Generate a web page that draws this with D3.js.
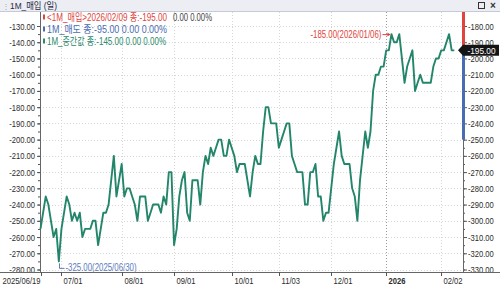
<!DOCTYPE html>
<html>
<head>
<meta charset="utf-8">
<script src="https://cdn.jsdelivr.net/npm/d3@7"></script>
<style>
body { margin: 0; background: #fff; }
svg { display: block; font-family: "Liberation Sans", "Noto Sans CJK KR", sans-serif; }
</style>
</head>
<body>
<svg id="chart" width="500" height="285"></svg>
<script>
// daily closes, 2025/06/19 .. 2026/02/09 (trading days)
const values = [
    -305, -295, -285, -290, -300, -310, -305, -325, -305, -295,
    -285, -290, -300, -295, -300, -295, -310, -305, -305, -305,
    -300, -300, -315, -305, -295, -295, -290, -275, -260, -285,
    -275, -265, -285, -280, -280, -285, -290, -300, -285, -285,
    -285, -300, -295, -290, -290, -290, -295, -285, -290, -270,
    -270, -315, -305, -285, -275, -270, -295, -300, -275, -275,
    -275, -290, -270, -260, -265, -255, -260, -255, -250, -250,
    -260, -260, -250, -255, -260, -270, -265, -265, -265, -275,
    -285, -270, -260, -265, -265, -245, -230, -230, -240, -240,
    -240, -255, -250, -245, -240, -240, -260, -265, -270, -270,
    -270, -290, -290, -270, -270, -265, -285, -285, -300, -295,
    -295, -280, -265, -255, -245, -260, -265, -265, -265, -280,
    -285, -300, -275, -260, -245, -255, -245, -220, -210, -210,
    -205, -205, -195, -195, -185, -190, -190, -185, -200, -215,
    -205, -200, -195, -220, -215, -210, -215, -215, -215, -215,
    -205, -200, -200, -195, -195, -190, -185, -195, -195
];
const tickIdx = [0, 8, 31, 51, 73, 91, 111, 132, 153];
const tickLabels = ["2025/06/19", "07/01", "08/01", "09/01", "10/01", "11/03", "12/01", "2026", "02/02"];
const yearIdx = 132;
const leftTicks = d3.range(-130, -281, -10);
const rightTicks = d3.range(-180, -331, -10);
const lastDate = "2026/02/09";
const maxDate = "2026/01/06";
const minDate = "2025/06/30";
const sellLevel = -250;
const legendNames = ["<1M_매입>" + lastDate + " 종:-195.00", "1M_매도 종:-95.00 0.00 0.00%", "1M_중간값 종:-145.00 0.00 0.00%"];
const legendColors = ["#e0443c", "#4a6cb3", "#2a8a6c"];

const svg = d3.select("#chart");
const W = 500, H = 285;
const pLeft = 40, pRight = 463, pTop = 12, pBottom = 272;

const x = d3.scaleLinear().domain([0, values.length - 1]).range([40.5, 454.3]);
const yR = d3.scaleLinear().domain([-330, -180]).range([269.5, 26]);
const yL = d3.scaleLinear().domain([-280, -130]).range([269.5, 26]);

// the terminal font is narrow; squeeze text horizontally
function squeeze(sel, k) {
    sel.each(function () {
        const w = this.getComputedTextLength();
        d3.select(this).attr("textLength", w * k).attr("lengthAdjust", "spacingAndGlyphs");
    });
}
function fitTo(sel, w) {
    sel.attr("textLength", w).attr("lengthAdjust", "spacingAndGlyphs");
}

// header bar
svg.append("rect").attr("x", 0).attr("y", 0).attr("width", W).attr("height", pTop)
    .attr("fill", "#eceef3");
svg.append("line").attr("x1", 0).attr("x2", W).attr("y1", pTop - 0.5).attr("y2", pTop - 0.5)
    .attr("stroke", "#c5cad6");
svg.append("text").attr("x", 2).attr("y", 9).attr("font-size", 8).attr("fill", "#9aa").text("⋮");
svg.append("text").attr("x", 10).attr("y", 9.3).attr("font-size", 9.5).attr("fill", "#1f2a44")
    .text("1M_매입 (일)").call(fitTo, 47);
svg.append("rect").attr("x", 478.5).attr("y", 2.5).attr("width", 6).attr("height", 6)
    .attr("fill", "none").attr("stroke", "#333");
svg.append("text").attr("x", 490).attr("y", 9.3).attr("font-size", 10).attr("font-weight", "bold")
    .attr("fill", "#333").text("×");

// grid
svg.append("g").selectAll("line").data(leftTicks).join("line")
    .attr("x1", pLeft).attr("x2", pRight)
    .attr("y1", d => Math.round(yL(d)) + 0.5).attr("y2", d => Math.round(yL(d)) + 0.5)
    .attr("stroke", "#d6d6d6").attr("stroke-dasharray", "1,2");
svg.append("g").selectAll("line").data(tickIdx.slice(1)).join("line")
    .attr("x1", d => Math.round(x(d)) + 0.5).attr("x2", d => Math.round(x(d)) + 0.5)
    .attr("y1", pTop).attr("y2", pBottom)
    .attr("stroke", d => d === yearIdx ? "#9a9a9a" : "#d6d6d6").attr("stroke-dasharray", "1,2");

// axes
function styleAxis(g) {
    g.select(".domain").remove();
    g.selectAll(".tick line").attr("stroke", "#555");
    g.selectAll(".tick text").attr("fill", "#2b2b2b").attr("font-size", 9.5)
        .attr("font-family", "Liberation Sans, sans-serif").call(squeeze, 0.8);
}
svg.append("g").attr("transform", `translate(${pLeft},0)`)
    .call(d3.axisLeft(yL).tickValues(d3.range(-130, -281, -5)).tickSize(2).tickFormat(""))
    .call(styleAxis);
svg.append("g").attr("transform", `translate(${pLeft},0)`)
    .call(d3.axisLeft(yL).tickValues(leftTicks).tickSize(3).tickPadding(2).tickFormat(d => d.toFixed(2)))
    .call(styleAxis);
svg.append("g").attr("transform", `translate(${pRight},0)`)
    .call(d3.axisRight(yR).tickValues(d3.range(-180, -331, -5)).tickSize(2).tickFormat(""))
    .call(styleAxis);
svg.append("g").attr("transform", `translate(${pRight},0)`)
    .call(d3.axisRight(yR).tickValues(rightTicks).tickSize(4).tickPadding(1).tickFormat(d => d.toFixed(2)))
    .call(styleAxis);

svg.append("line").attr("x1", pLeft + 0.5).attr("x2", pLeft + 0.5).attr("y1", pTop).attr("y2", pBottom)
    .attr("stroke", "#666");
svg.append("line").attr("x1", pRight + 0.5).attr("x2", pRight + 0.5).attr("y1", pTop).attr("y2", pBottom)
    .attr("stroke", "#666");
svg.append("line").attr("x1", 0).attr("x2", W).attr("y1", pBottom + 0.5).attr("y2", pBottom + 0.5)
    .attr("stroke", "#666");

// date ticks
const xt = svg.append("g");
tickIdx.forEach((d, i) => {
    const px = Math.round(x(d)) + 0.5;
    xt.append("line").attr("x1", px).attr("x2", px).attr("y1", pBottom).attr("y2", pBottom + 4)
        .attr("stroke", "#555");
    xt.append("text")
        .attr("x", i === 0 ? px - 1 : px + 2)
        .attr("y", 283.5)
        .attr("text-anchor", i === 0 ? "end" : "start")
        .attr("font-size", 9.5)
        .attr("font-weight", d === yearIdx ? "bold" : "normal")
        .attr("fill", "#2b2b2b")
        .text(tickLabels[i])
        .call(squeeze, 0.8);
});

// series
svg.append("path").datum(values)
    .attr("fill", "none").attr("stroke", "#23866b").attr("stroke-width", 1.9)
    .attr("stroke-linejoin", "round")
    .attr("d", d3.line().x((d, i) => x(i)).y(d => yR(d)));

// legend
const legendWidths = [120, 120, 119];
legendNames.forEach((name, i) => {
    const ly = 20.5 + i * 12;
    svg.append("rect").attr("x", 43).attr("y", ly - 6).attr("width", 2).attr("height", 5)
        .attr("fill", legendColors[i]);
    const t = svg.append("text").attr("y", ly).attr("font-size", 10);
    t.append("tspan").attr("x", 47).attr("fill", legendColors[i]).text(name).call(fitTo, legendWidths[i]);
    if (i === 0) {
        t.append("tspan").attr("x", 173).attr("fill", "#444").text("0.00 0.00%").call(fitTo, 39);
    }
});

// max / min annotations
const iMax = d3.maxIndex(values), iMin = d3.minIndex(values);
const mx = x(iMax), my = yR(values[iMax]);
svg.append("text").attr("x", mx - 10).attr("y", my + 3.5).attr("text-anchor", "end")
    .attr("font-size", 10).attr("fill", "#e0443c")
    .text(values[iMax].toFixed(2) + "(" + maxDate + ")").call(fitTo, 71);
svg.append("line").attr("x1", mx - 9).attr("x2", mx - 1.5).attr("y1", my + 0.5).attr("y2", my + 0.5)
    .attr("stroke", "#e0443c");
svg.append("path").attr("d", `M${mx - 1},${my + 0.5}l-3,-2v4z`).attr("fill", "#e0443c");

const nx = Math.round(x(iMin)) + 0.5, ny = yR(values[iMin]);
svg.append("path").attr("d", `M${nx},${ny + 2}V${ny + 7}h5`).attr("fill", "none").attr("stroke", "#5b7bbd");
svg.append("text").attr("x", nx + 6).attr("y", ny + 10).attr("font-size", 10)
    .attr("fill", "#5b7bbd").text(values[iMin].toFixed(2) + "(" + minDate + ")").call(fitTo, 71);

// right-side level bars and current price tag
const last = values[values.length - 1];
svg.append("rect").attr("x", pRight - 1).attr("y", pTop).attr("width", 3).attr("height", yR(last) - pTop)
    .attr("fill", "#e0443c");
svg.append("rect").attr("x", pRight - 1).attr("y", yR(last)).attr("width", 3)
    .attr("height", yR(sellLevel) - yR(last)).attr("fill", "#4a6cb3");
const ty = yR(last);
svg.append("path").attr("d", `M${pRight - 5},${ty}L${pRight},${ty - 5.5}H${W - 1}V${ty + 5.5}H${pRight}Z`)
    .attr("fill", "#141414");
svg.append("text").attr("x", pRight + 18.5).attr("y", ty + 3.5).attr("text-anchor", "middle")
    .attr("font-size", 9.5).attr("fill", "#fff").text(last.toFixed(2)).call(fitTo, 28);
</script>
</body>
</html>
